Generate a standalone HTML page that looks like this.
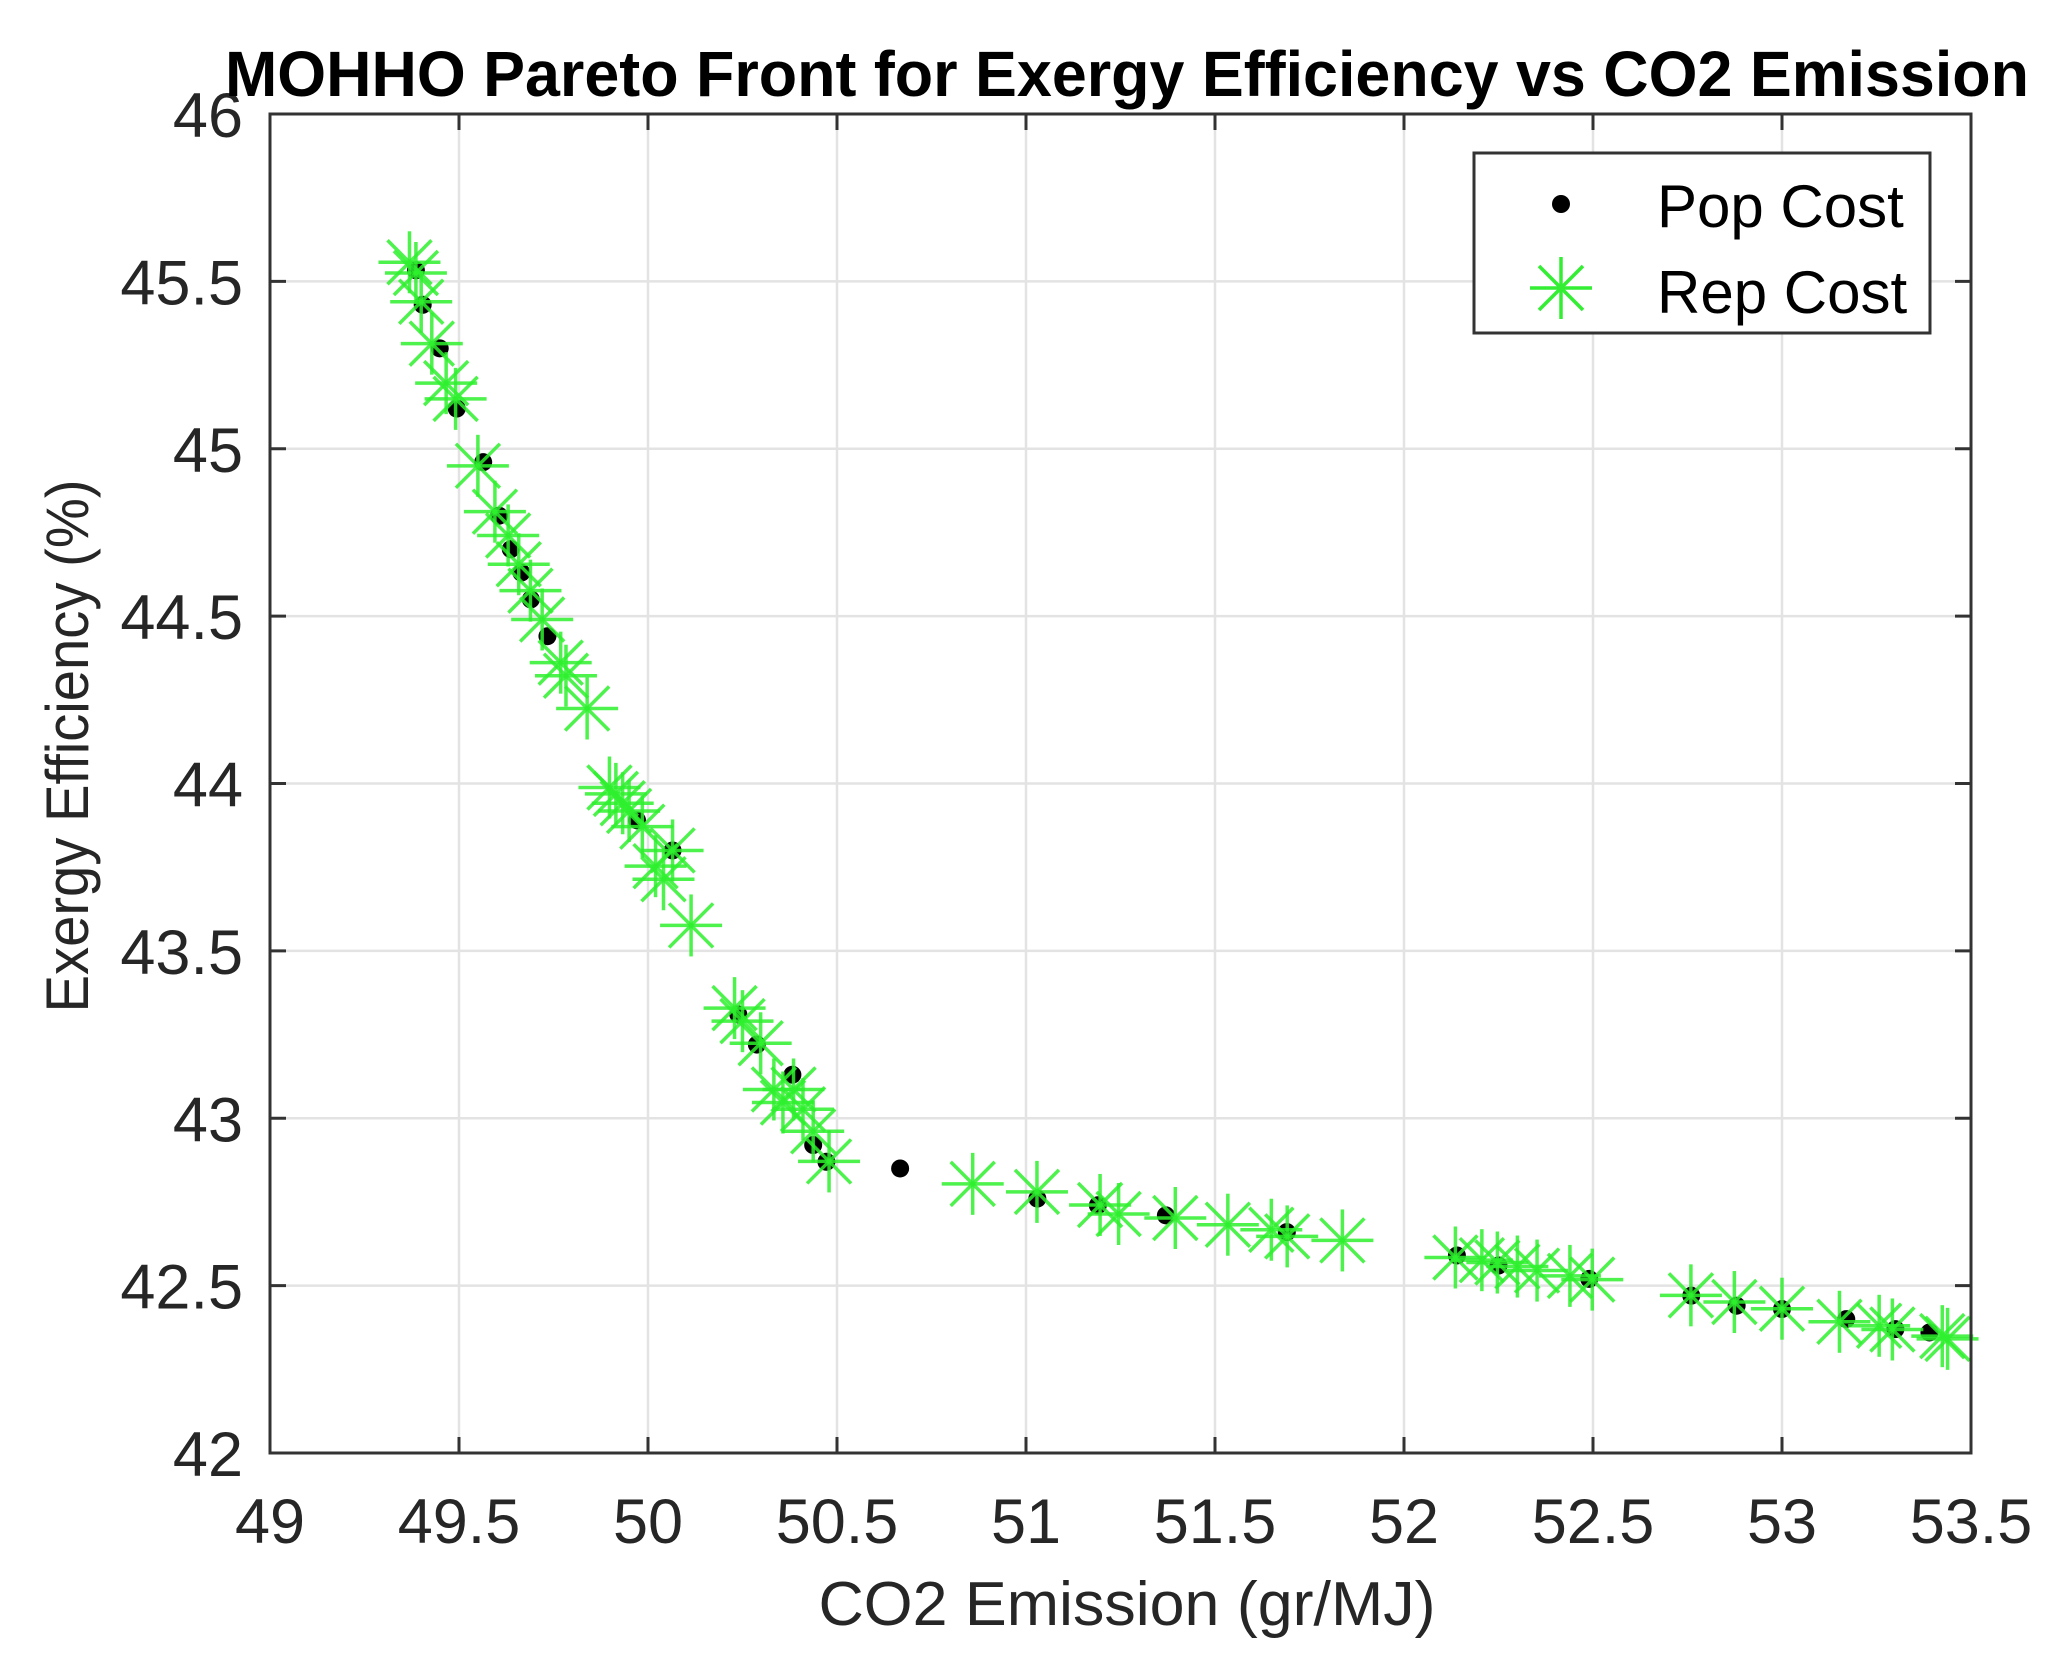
<!DOCTYPE html>
<html><head><meta charset="utf-8"><style>
html,body{margin:0;padding:0;background:#fff;}
svg{display:block;font-family:"Liberation Sans",Arial,sans-serif;}
</style></head><body>
<svg id="chart" width="2059" height="1665" viewBox="0 0 2059 1665">
<rect x="0" y="0" width="2059" height="1665" fill="#fff"/>
<g id="grid"></g>
<g id="series"></g>
<g id="axes"></g>
<text x="1127" y="96" text-anchor="middle" font-weight="bold" font-size="64" textLength="1804" lengthAdjust="spacingAndGlyphs" fill="#000">MOHHO Pareto Front for Exergy Efficiency vs CO2 Emission</text>
<text x="1127" y="1625" text-anchor="middle" font-size="62" textLength="617" lengthAdjust="spacingAndGlyphs" fill="#262626">CO2 Emission (gr/MJ)</text>
<text transform="translate(88,746) rotate(-90)" x="0" y="0" text-anchor="middle" font-size="60" textLength="533" lengthAdjust="spacingAndGlyphs" fill="#262626">Exergy Efficiency (%)</text>
<g>
<rect x="1474" y="153" width="456" height="180" fill="#fff" stroke="#333" stroke-width="3"/>
<circle cx="1561" cy="204" r="9" fill="#000"/>
<g stroke="#33ee33" stroke-width="3.5">
<line x1="1530" y1="288" x2="1592" y2="288"/><line x1="1561" y1="257" x2="1561" y2="319"/>
<line x1="1539" y1="266" x2="1583" y2="310"/><line x1="1539" y1="310" x2="1583" y2="266"/></g>
<text x="1657" y="227" font-size="60" fill="#000">Pop Cost</text>
<text x="1657" y="313" font-size="60" fill="#000">Rep Cost</text>
</g>
</svg>
<script>
const xTicks = [49, 49.5, 50, 50.5, 51, 51.5, 52, 52.5, 53, 53.5];
const xTickLabels = ["49","49.5","50","50.5","51","51.5","52","52.5","53","53.5"];
const yTicks = [42, 42.5, 43, 43.5, 44, 44.5, 45, 45.5, 46];
const yTickLabels = ["42","42.5","43","43.5","44","44.5","45","45.5","46"];
const popX = [49.386,49.404,49.449,49.494,49.564,49.606,49.637,49.665,49.69,49.734,49.971,50.065,50.239,50.288,50.382,50.437,50.472,50.667,51.03,51.19,51.37,51.69,52.14,52.25,52.49,52.76,52.88,53.0,53.17,53.30,53.39];
const popY = [45.533,45.43,45.30,45.12,44.96,44.80,44.70,44.63,44.55,44.44,43.89,43.80,43.31,43.22,43.13,42.92,42.87,42.85,42.76,42.74,42.71,42.66,42.59,42.56,42.52,42.47,42.44,42.43,42.40,42.37,42.36];
const repX = [49.369,49.386,49.400,49.428,49.466,49.491,49.550,49.595,49.630,49.658,49.689,49.720,49.769,49.783,49.839,49.898,49.915,49.933,49.950,49.985,50.020,50.041,50.065,50.114,50.229,50.250,50.298,50.333,50.357,50.385,50.410,50.437,50.479,50.859,51.029,51.196,51.245,51.395,51.534,51.649,51.691,51.837,52.136,52.206,52.247,52.300,52.352,52.439,52.498,52.759,52.874,53.000,53.152,53.257,53.292,53.424,53.438];
const repY = [45.557,45.525,45.439,45.314,45.196,45.149,44.949,44.812,44.741,44.655,44.576,44.490,44.361,44.322,44.224,43.988,43.969,43.941,43.918,43.871,43.753,43.714,43.800,43.576,43.329,43.290,43.224,43.086,43.047,43.086,43.027,42.961,42.871,42.804,42.780,42.741,42.714,42.702,42.682,42.667,42.647,42.635,42.584,42.576,42.569,42.557,42.545,42.529,42.518,42.471,42.451,42.431,42.392,42.380,42.369,42.349,42.341];

const L=270,R=1971,T=114,B=1453, X0=49,X1=53.5,Y0=42,Y1=46;
function sx(v){return L+(v-X0)/(X1-X0)*(R-L);}
function sy(v){return B-(v-Y0)/(Y1-Y0)*(B-T);}
const NS="http://www.w3.org/2000/svg";
function mk(tag,attrs,parent){const e=document.createElementNS(NS,tag);for(const k in attrs)e.setAttribute(k,attrs[k]);parent.appendChild(e);return e;}
const grid=document.getElementById('grid'),axes=document.getElementById('axes'),series=document.getElementById('series');

xTicks.forEach((v,i)=>{
  const x=sx(v);
  if(i>0&&i<xTicks.length-1){const g=mk('line',{x1:x,y1:T,x2:x,y2:B,stroke:'#e3e3e3','stroke-width':2.5},grid);
  
  }
  mk('line',{x1:x,y1:B,x2:x,y2:B-16,stroke:'#333','stroke-width':3},axes);
  mk('line',{x1:x,y1:T,x2:x,y2:T+16,stroke:'#333','stroke-width':3},axes);
  const t=mk('text',{x:x,y:1543,'text-anchor':'middle','font-size':63,fill:'#262626'},axes);
  t.textContent=xTickLabels[i];
  
  
});
yTicks.forEach((v,i)=>{
  const y=sy(v);
  if(i>0&&i<yTicks.length-1){const g=mk('line',{x1:L,y1:y,x2:R,y2:y,stroke:'#e3e3e3','stroke-width':2.5},grid);
  
  }
  mk('line',{x1:L,y1:y,x2:L+16,y2:y,stroke:'#333','stroke-width':3},axes);
  mk('line',{x1:R,y1:y,x2:R-16,y2:y,stroke:'#333','stroke-width':3},axes);
  const t=mk('text',{x:243,y:y+23,'text-anchor':'end','font-size':63,fill:'#262626'},axes);
  t.textContent=yTickLabels[i];
  
  
});
const box=mk('rect',{x:L,y:T,width:R-L,height:B-T,fill:'none',stroke:'#333','stroke-width':3},axes);



popX.forEach((v,i)=>{
  const c=mk('circle',{cx:sx(v),cy:sy(popY[i]),r:9,fill:'#000'},series);
  
  
});
repX.forEach((v,i)=>{
  const x=sx(v),y=sy(repY[i]),h=31,d=22;
  const g=mk('g',{stroke:'#2ef02e','stroke-width':3.5,'stroke-opacity':0.85},series);
  
  
  mk('line',{x1:x-h,y1:y,x2:x+h,y2:y},g);
  mk('line',{x1:x,y1:y-h,x2:x,y2:y+h},g);
  mk('line',{x1:x-d,y1:y-d,x2:x+d,y2:y+d},g);
  mk('line',{x1:x-d,y1:y+d,x2:x+d,y2:y-d},g);
});
</script>
</body></html>
